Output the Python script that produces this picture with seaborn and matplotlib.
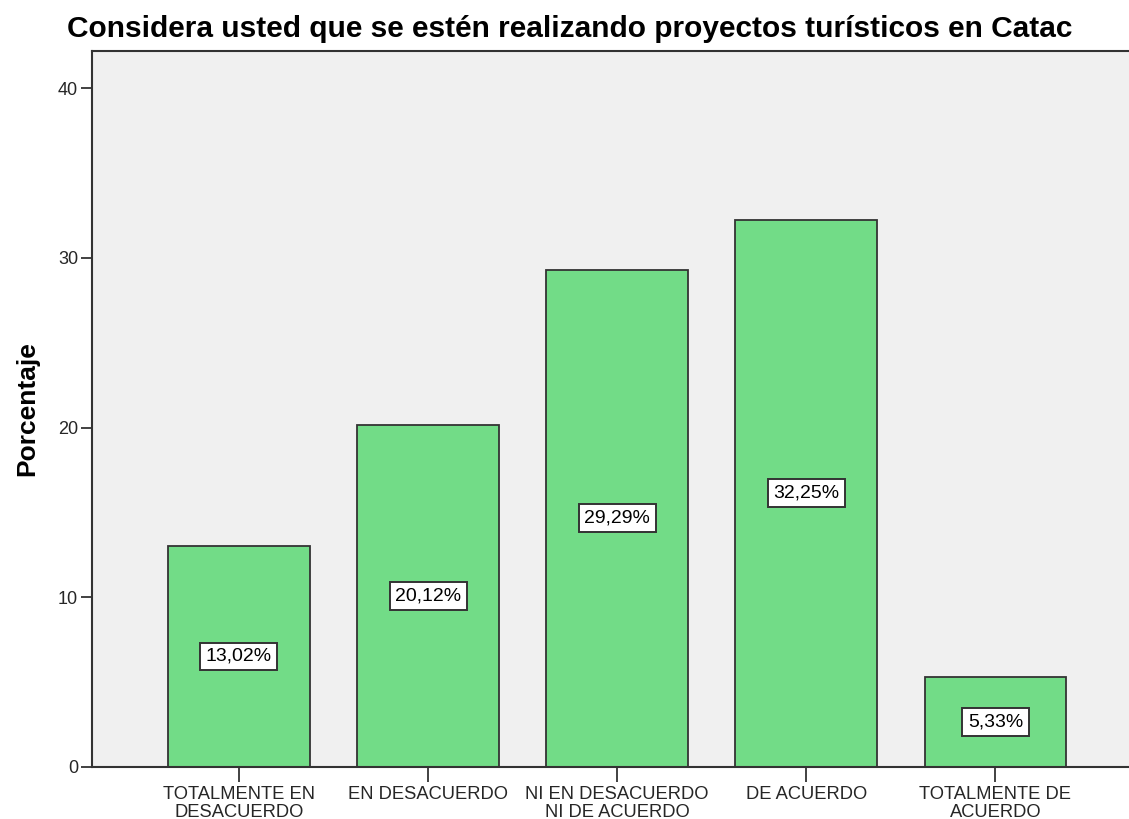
import pandas as pd
import matplotlib
matplotlib.use('Agg')
import matplotlib.pyplot as plt
import seaborn as sns

# Data
categorias = ['TOTALMENTE EN\nDESACUERDO', 'EN DESACUERDO', 'NI EN DESACUERDO\nNI DE ACUERDO',
              'DE ACUERDO', 'TOTALMENTE DE\nACUERDO']
porcentajes = [13.02, 20.12, 29.29, 32.25, 5.33]
etiquetas = ['13,02%', '20,12%', '29,29%', '32,25%', '5,33%']
yticks = [0, 10, 20, 30, 40]

df = pd.DataFrame({'Categoria': categorias, 'Porcentaje': porcentajes})

sns.set_style('white')
plt.rcParams['font.family'] = ['Liberation Sans', 'DejaVu Sans']

fig = plt.figure(figsize=(11.29, 8.19), dpi=100)
ax = fig.add_axes([0.0815, 0.0635, 0.9185, 0.8742])
ax.set_facecolor('#f0f0f0')

sns.barplot(data=df, x='Categoria', y='Porcentaje', color='#72dc87', saturation=1,
            width=0.75, edgecolor='#333333', linewidth=1.3, ax=ax)

# labels in the middle of each bar
for i, (v, t) in enumerate(zip(porcentajes, etiquetas)):
    ax.text(i, v / 2, t, ha='center', va='center', fontsize=14, color='black',
            bbox=dict(boxstyle='square,pad=0.28', facecolor='white', edgecolor='#333333', linewidth=1.4))

ax.set_xlim(-0.777, 4.706)
ax.set_ylim(0, 42.18)
ax.set_yticks(yticks)
ax.set_yticklabels([str(t) for t in yticks], fontsize=13)
ax.tick_params(axis='x', labelsize=13.2, length=11, width=1.3, color='#333333', pad=3)
ax.tick_params(axis='y', length=8, width=1.3, color='#333333', pad=2)
ax.tick_params(left=True, bottom=True)
for lbl in ax.get_xticklabels():
    lbl.set_linespacing(1.05)

for s in ['left', 'bottom', 'top']:
    ax.spines[s].set_color('#333333')
    ax.spines[s].set_linewidth(1.5)
ax.spines['right'].set_visible(False)

ax.set_xlabel('')
ax.set_ylabel('Porcentaje', fontsize=19, fontweight='bold', color='black')
ax.yaxis.set_label_coords(-0.051, 0.5)
fig.text(0.5045, (819 - 37) / 819, 'Considera usted que se estén realizando proyectos turísticos en Catac',
         ha='center', va='baseline', fontsize=21.5, fontweight='bold', color='black')

fig.savefig('out.png', dpi=100)
